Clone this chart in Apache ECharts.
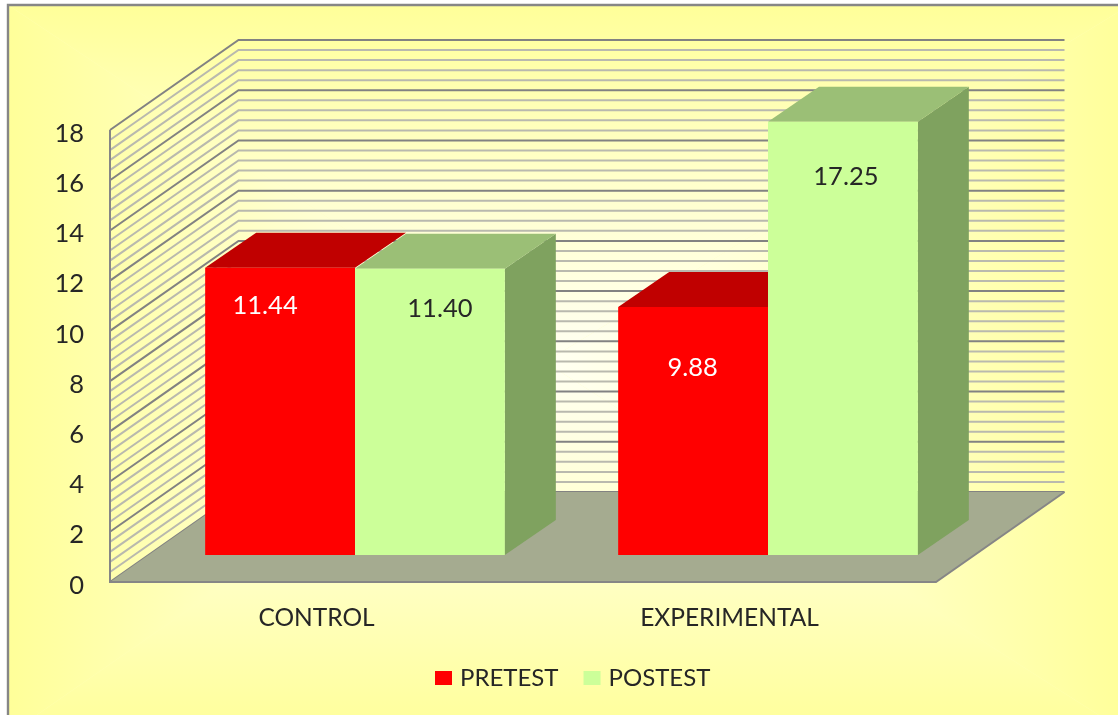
<!DOCTYPE html>
<html>
<head>
<meta charset="utf-8">
<style>html,body{margin:0;padding:0;background:#fff}#c{width:1118px;height:715px}</style>
<script src="https://cdn.jsdelivr.net/npm/echarts@6/dist/echarts.min.js"></script>
</head>
<body>
<div id="c"></div>
<script>
const categories = ['CONTROL', 'EXPERIMENTAL'];
const pretest = [11.44, 9.88];
const postest = [11.40, 17.25];
const seriesNames = ['PRETEST', 'POSTEST'];
const yMax = 18;
const yMajor = 2;
const minorPerMajor = 5;

// depth of the chart box and of the bars, in pixels
const WALL = [128.5, -90];
const BAR = [51, -35];
const BAR_INSET = [38.5, -27];
const BAR_FRACTION = 0.3628;
const VALUE_FONT = '25.5px Lato, "Open Sans", sans-serif';
const TEXT = '#262626';

// hand placed value labels of the original: shift from the centre top of the front face
const pretestLabelShift = [[-15, 38], [-0.5, 61]];
const postestLabelShift = [[10, 40], [3, 55]];

const gridValues = [];
for (let i = 0; i <= (yMax / yMajor) * minorPerMajor; i++) {
  gridValues.push([i, i * yMajor / minorPerMajor]);
}

function wallItem(params, api) {
  const r = params.coordSys;
  const i = api.value(0);
  const y = api.coord([0, api.value(1)])[1];
  const major = i % minorPerMajor === 0;
  return {
    type: 'polyline',
    shape: { points: [[r.x, y], [r.x + WALL[0], y + WALL[1]], [r.x + r.width + WALL[0], y + WALL[1]]] },
    style: { fill: 'none', stroke: major ? '#828282' : '#B9B9AE', lineWidth: 2 }
  };
}

function floorItem(params) {
  const r = params.coordSys;
  const b = r.y + r.height;
  return {
    type: 'group',
    children: [
      {
        type: 'polygon',
        shape: { points: [[r.x, b], [r.x + WALL[0], b + WALL[1]], [r.x + r.width + WALL[0], b + WALL[1]], [r.x + r.width, b]] },
        style: { fill: '#A5AB90', stroke: null }
      },
      {
        type: 'polyline',
        shape: { points: [[r.x, r.y], [r.x, b], [r.x + r.width, b], [r.x + r.width + WALL[0], b + WALL[1]]] },
        style: { fill: 'none', stroke: '#868686', lineWidth: 2 }
      }
    ]
  };
}

function barRenderer(side, colors, labelColor, shifts) {
  return function (params, api) {
    const idx = api.value(0);
    const val = api.value(1);
    const band = api.size([1, 0])[0];
    const w = band * BAR_FRACTION;
    const base = api.coord([idx, 0]);
    const top = api.coord([idx, val]);
    const x0 = base[0] + BAR_INSET[0] + (side === 0 ? -w : 0);
    const x1 = x0 + w;
    const y0 = base[1] + BAR_INSET[1];
    const y1 = top[1] + BAR_INSET[1];
    const s = shifts[idx];
    const children = [];
    if (colors.side) {
      children.push({ type: 'polygon', shape: { points: [[x1, y0], [x1 + BAR[0], y0 + BAR[1]], [x1 + BAR[0], y1 + BAR[1]], [x1, y1]] }, style: { fill: colors.side } });
    }
    children.push(
      { type: 'polygon', shape: { points: [[x0, y1], [x0 + BAR[0], y1 + BAR[1]], [x1 + BAR[0], y1 + BAR[1]], [x1, y1]] }, style: { fill: colors.top } },
      { type: 'rect', shape: { x: x0, y: y1, width: w, height: y0 - y1 }, style: { fill: colors.front } },
      { type: 'text', style: { text: val.toFixed(2), x: (x0 + x1) / 2 + s[0], y: y1 + s[1], align: 'center', verticalAlign: 'middle', font: VALUE_FONT, fill: labelColor } }
    );
    return { type: 'group', children };
  };
}

// The plot area fill of the original is a rectangular "from centre" gradient: four wedges meeting in the middle
const PANEL = { l: 8, t: 5, r: 1130, b: 735, cx: 545, cy: 362 };
const panelStops = [
  { offset: 0, color: '#FFFFF2' },
  { offset: 0.5, color: '#FFFFCC' },
  { offset: 1, color: '#FFFF99' }
];
function wedge(a, b, x2, y2) {
  return {
    type: 'polygon', z: -10, silent: true,
    shape: { points: [[PANEL.cx, PANEL.cy], a, b] },
    style: { fill: { type: 'linear', global: true, x: PANEL.cx, y: PANEL.cy, x2, y2, colorStops: panelStops } }
  };
}
const tl = [PANEL.l, PANEL.t], tr = [PANEL.r, PANEL.t], br = [PANEL.r, PANEL.b], bl = [PANEL.l, PANEL.b];

const chart = echarts.init(document.getElementById('c'), null, { width: 1118, height: 715 });
chart.setOption({
  animation: false,
  backgroundColor: '#fff',
  graphic: [
    { type: 'rect', z: -11, silent: true, shape: { x: PANEL.l, y: PANEL.t, width: PANEL.r - PANEL.l, height: PANEL.b - PANEL.t }, style: { fill: '#FFFFBE' } },
    wedge(tl, tr, PANEL.cx, PANEL.t),
    wedge(tr, br, PANEL.r, PANEL.cy),
    wedge(br, bl, PANEL.cx, PANEL.b),
    wedge(bl, tl, PANEL.l, PANEL.cy),
    {
      type: 'rect', z: -9, silent: true,
      shape: { x: PANEL.l, y: PANEL.t, width: PANEL.r - PANEL.l, height: PANEL.b - PANEL.t },
      style: { fill: 'none', stroke: '#868686', lineWidth: 2.4 }
    }
  ],
  grid: { left: 110, top: 130, width: 826, height: 452 },
  legend: {
    left: 435, top: 666, padding: 0,
    itemWidth: 17, itemHeight: 14, itemGap: 25,
    icon: 'rect',
    data: seriesNames,
    textStyle: { color: TEXT, fontFamily: 'Lato', fontSize: 24, padding: [0, 0, 0, 3] }
  },
  xAxis: {
    type: 'category', data: categories,
    axisLine: { show: false }, axisTick: { show: false },
    axisLabel: { color: TEXT, fontFamily: 'Lato', fontSize: 24.5, margin: 24 }
  },
  yAxis: {
    type: 'value', min: 0, max: yMax, interval: yMajor,
    axisLine: { show: false }, axisTick: { show: false }, splitLine: { show: false },
    axisLabel: {
      margin: 26,
      formatter: '{tick|{value}}',
      rich: { tick: { color: TEXT, fontFamily: 'Lato', fontSize: 25.5, padding: [7, 0, 0, 0] } }
    }
  },
  series: [
    { type: 'custom', name: 'walls', silent: true, data: gridValues, renderItem: wallItem, encode: { x: -1, y: 1 }, clip: false },
    { type: 'custom', name: 'floor', silent: true, data: [[0, 0]], renderItem: floorItem, encode: { x: -1, y: 1 }, clip: false },
    {
      type: 'custom', name: seriesNames[0], itemStyle: { color: '#FF0000' },
      data: pretest.map((v, i) => [i, v]), encode: { x: 0, y: 1 }, clip: false,
      renderItem: barRenderer(0, { front: '#FF0000', top: '#C00000', side: null }, '#FFFFFF', pretestLabelShift)
    },
    {
      type: 'custom', name: seriesNames[1], itemStyle: { color: '#CCFF99' },
      data: postest.map((v, i) => [i, v]), encode: { x: 0, y: 1 }, clip: false,
      renderItem: barRenderer(1, { front: '#CCFF99', top: '#9BBF76', side: '#7FA25F' }, TEXT, postestLabelShift)
    }
  ]
});
</script>
</body>
</html>
